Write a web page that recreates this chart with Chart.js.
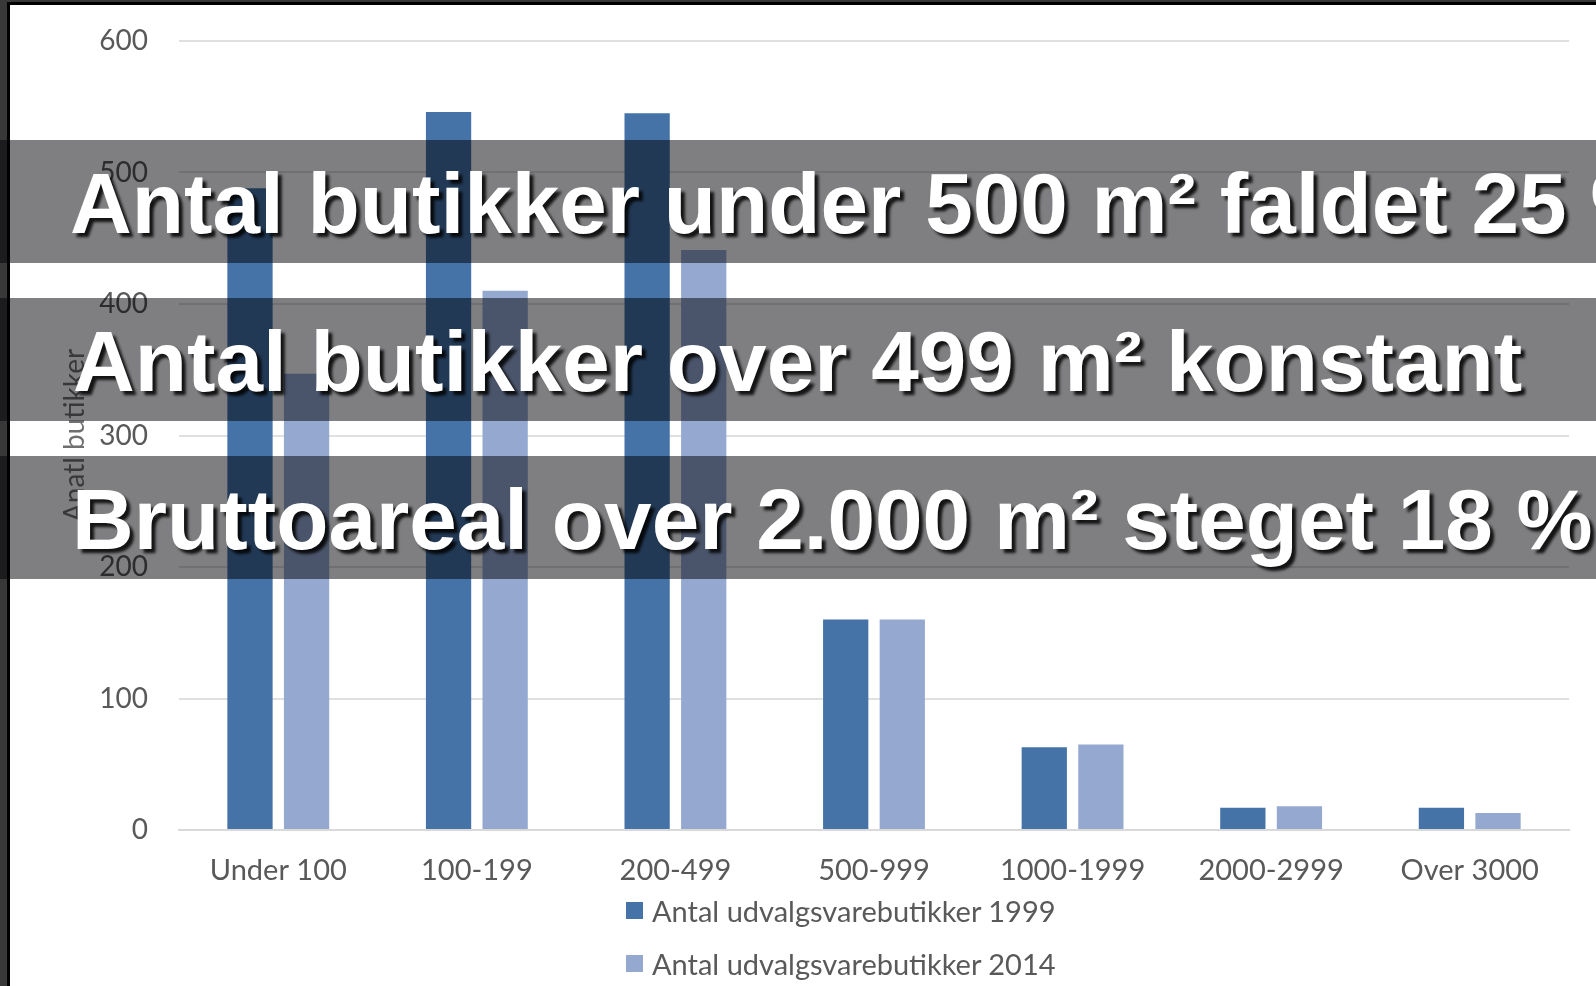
<!DOCTYPE html>
<html><head><meta charset="utf-8">
<script src="https://cdn.jsdelivr.net/npm/chart.js@4.4.1/dist/chart.umd.min.js"></script>
<style>
html,body{margin:0;padding:0;width:1596px;height:986px;overflow:hidden;background:#383838;}
#frame{position:absolute;left:7px;top:2px;width:1586px;height:981px;background:#fff;border-left:3px solid #000;border-top:3px solid #000;}
canvas{position:absolute;left:0;top:0;}
.banner{position:absolute;left:0;width:1596px;height:123px;background:rgba(0,0,6,0.5);overflow:hidden;white-space:nowrap;}
.banner span{position:absolute;top:21px;font-family:"Liberation Sans",Arial,sans-serif;font-weight:bold;font-size:85.5px;line-height:85px;color:#fff;text-shadow:4px 4px 3px rgba(0,0,0,0.85);}
#legend{position:absolute;left:626px;top:0;font-family:Lato,sans-serif;font-size:29px;color:#595959;}
.item{position:absolute;left:0;white-space:nowrap;display:flex;align-items:center;height:34px;}
.sw{width:17px;height:17px;margin-right:9px;flex:none;}
</style>
</head>
<body>
<div id="frame"></div>
<canvas id="c" width="1596" height="986"></canvas>
<div id="legend"></div>
<div id="banners"></div>
<script>
const categories = ['Under 100', '100-199', '200-499', '500-999', '1000-1999', '2000-2999', 'Over 3000'];
const series1999 = [488, 546, 545, 160, 63, 17, 17];
const series2014 = [347, 410, 441, 160, 65, 18, 13];
const seriesLabels = ['Antal udvalgsvarebutikker 1999', 'Antal udvalgsvarebutikker 2014'];
const seriesColors = ['#4573A7', '#95A9D0'];
const yTicks = [0, 100, 200, 300, 400, 500, 600];
const yTitle = 'Anatl butikker';
const bannerTexts = [
  'Antal butikker under 500 m² faldet 25 %',
  'Antal butikker over 499 m² konstant',
  'Bruttoareal over 2.000 m² steget 18 %'
];
const bannerTops = [140, 298, 456];
const bannerLefts = [70, 73, 72];
const legendTops = [893, 946];

// banners
const bwrap = document.getElementById('banners');
bannerTexts.forEach((t, i) => {
  const d = document.createElement('div');
  d.className = 'banner';
  d.style.top = bannerTops[i] + 'px';
  const s = document.createElement('span');
  s.style.left = bannerLefts[i] + 'px';
  s.textContent = t;
  d.appendChild(s);
  bwrap.appendChild(d);
});

// legend
const lg = document.getElementById('legend');
seriesLabels.forEach((l, i) => {
  const it = document.createElement('div');
  it.className = 'item';
  it.style.top = legendTops[i] + 'px';
  const sw = document.createElement('div');
  sw.className = 'sw';
  sw.style.background = seriesColors[i];
  const tx = document.createElement('span');
  tx.textContent = l;
  it.appendChild(sw); it.appendChild(tx);
  lg.appendChild(it);
});

function draw() {
  new Chart(document.getElementById('c'), {
    type: 'bar',
    data: {
      labels: categories,
      datasets: [
        { label: seriesLabels[0], data: series1999, backgroundColor: seriesColors[0], categoryPercentage: 0.57, barPercentage: 0.8 },
        { label: seriesLabels[1], data: series2014, backgroundColor: seriesColors[1], categoryPercentage: 0.57, barPercentage: 0.8 }
      ]
    },
    options: {
      responsive: false,
      animation: false,
      layout: { autoPadding: false, padding: { top: 41, right: 27, left: 0, bottom: 0 } },
      plugins: { legend: { display: false }, tooltip: { enabled: false } },
      scales: {
        x: {
          grid: { display: false, drawTicks: false },
          border: { display: true, color: '#d9d9d9', width: 2 },
          ticks: { font: { family: 'Lato', size: 29 }, color: '#595959', padding: 23, maxRotation: 0 },
          afterFit: s => { s.height = 156; s.paddingLeft = 0; s.paddingRight = 0; }
        },
        y: {
          min: yTicks[0], max: yTicks[yTicks.length - 1],
          grid: { color: '#e0e0e0', lineWidth: 2, drawTicks: false },
          border: { display: false },
          ticks: { stepSize: yTicks[1] - yTicks[0], font: { family: 'Lato', size: 28 }, color: '#595959', padding: 31 },
          title: { display: true, text: yTitle, font: { family: 'Lato', size: 28 }, color: '#707070', padding: { top: 58, bottom: 0 } },
          afterFit: s => { s.width = 179; s.paddingTop = 0; s.paddingBottom = 0; }
        }
      }
    }
  });
}
if (document.fonts && document.fonts.load) {
  Promise.all([document.fonts.load('27px Lato'), document.fonts.load('bold 85px "Liberation Sans"')]).then(draw, draw);
} else draw();
</script>
</body></html>
